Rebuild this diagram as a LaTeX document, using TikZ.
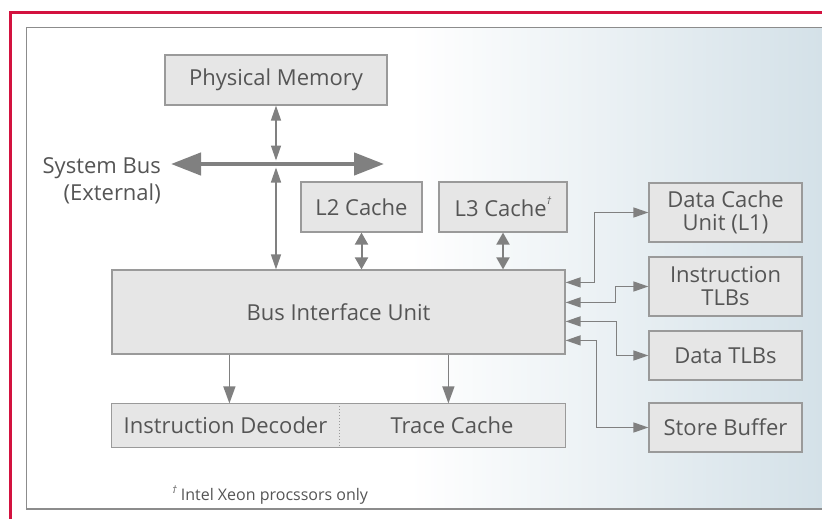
\documentclass[tikz,border=0pt]{standalone}
\usepackage{fontspec}
\setmainfont{Open Sans}
\usetikzlibrary{arrows.meta,calc}
\definecolor{framered}{HTML}{D3123F}
\definecolor{framegrey}{HTML}{8C8C8C}
\definecolor{boxfill}{HTML}{E6E6E6}
\definecolor{boxline}{HTML}{9A9A9A}
\definecolor{inkgrey}{HTML}{555555}
\definecolor{linkgrey}{HTML}{808080}
\definecolor{tint}{HTML}{D4E1E8}
\newcommand{\footmark}{\raisebox{0.55em}{\fontsize{10}{10}\selectfont\itshape †}}
\begin{document}
\begin{tikzpicture}[x=1pt,y=-1pt,
  unit/.style={draw=boxline, fill=boxfill, line width=1.2pt, inner sep=0pt,
    align=center, text=inkgrey, font=\fontsize{22}{23}\selectfont},
  label/.style={inner sep=0pt, align=right, text=inkgrey, font=\fontsize{22}{27}\selectfont},
  note/.style={inner sep=0pt, text=inkgrey, font=\fontsize{16}{16}\selectfont},
  link/.style={draw=linkgrey, line width=1.4pt,
    {Triangle[length=15pt,width=10pt]}-{Triangle[length=15pt,width=10pt]}},
  shortlink/.style={draw=linkgrey, line width=2pt,
    {Triangle[length=12pt,width=13pt]}-{Triangle[length=12pt,width=13pt]}},
  downlink/.style={draw=linkgrey, line width=1.4pt, -{Triangle[length=17pt,width=12pt]}},
  buslink/.style={draw=linkgrey, line width=4.5pt,
    {Triangle[length=30pt,width=22pt]}-{Triangle[length=30pt,width=22pt]}}
]
\useasboundingbox (0,0) rectangle (822,519);

% background panel with tint towards the right
\fill[white] (26.3,27.3) rectangle (822,509);
\shade[left color=white, right color=tint] (410,27.3) rectangle (822,509);
\draw[framegrey, line width=1.2pt] (822,27.3) -- (26.3,27.3) -- (26.3,509) -- (822,509);
\draw[framered, line width=2.6pt] (10.7,519) -- (10.7,12.3) -- (822,12.3);

% units
\node[unit, minimum width=222, minimum height=50] (pm) at (276,80) {Physical Memory};
\node[unit, minimum width=121, minimum height=50] (l2) at (361.5,207) {L2 Cache};
\node[unit, minimum width=128, minimum height=50] (l3) at (503,207) {L3 Cache\footmark};
\node[unit, minimum width=453, minimum height=84] (biu) at (338.5,312) {Bus Interface Unit};
\node[unit, draw=none, minimum width=227, minimum height=43] (dec) at (225.5,425.5) {Instruction Decoder};
\node[unit, draw=none, minimum width=226, minimum height=43] (tc) at (452,425.5) {Trace Cache};
\draw[boxline, line width=1.2pt] (dec.north west) rectangle (tc.south east);
\draw[boxline, line width=1pt, dotted] (dec.north east) -- (dec.south east);

\node[unit, minimum width=153, minimum height=59] (dcu) at (725.5,212.5) {Data Cache\\Unit (L1)};
\node[unit, minimum width=153, minimum height=59] (itlb) at (725.5,286.5) {Instruction\\TLBs};
\node[unit, minimum width=153, minimum height=49] (dtlb) at (725.5,355.5) {Data TLBs};
\node[unit, minimum width=153, minimum height=49] (sb) at (725.5,427.5) {Store Buffer};

% external system bus
\coordinate (busL) at (171,164);
\coordinate (busR) at (384,164);
\coordinate (xing) at (276,164);
\draw[buslink] (busL) -- (busR);
\node[label, anchor=east] (buslabel) at (161,181) {System Bus\\(External)};

% vertical connections
\draw[link] (pm.south) -- ($(xing)+(0,-3.5)$);
\draw[link] ($(xing)+(0,3.5)$) -- (biu.north -| xing);
\draw[shortlink] (l2.south) -- (l2.south |- biu.north);
\draw[shortlink] (l3.south) -- (l3.south |- biu.north);
\coordinate (decfeed) at ($(biu.south west)+(118,0)$);
\coordinate (tcfeed) at ($(biu.south west)+(337,0)$);
\draw[downlink] (decfeed) -- (decfeed |- dec.north);
\draw[downlink] (tcfeed) -- (tcfeed |- tc.north);

% side units
\draw[link] ($(biu.north east)+(0,13)$) -| ($(dcu.west)+(-54,0)$) -- (dcu.west);
\draw[link] ($(biu.north east)+(0,33)$) -| ($(itlb.west)+(-33,0)$) -- (itlb.west);
\draw[link] ($(biu.north east)+(0,52)$) -| ($(dtlb.west)+(-32,0)$) -- (dtlb.west);
\draw[link] ($(biu.north east)+(0,71)$) -| ($(sb.west)+(-52,0)$) -- (sb.west);

% footnote
\node[note] (fn) at (270,495) {\raisebox{0.45em}{\fontsize{10}{10}\selectfont\itshape †} Intel Xeon procssors only};
\end{tikzpicture}
\end{document}
